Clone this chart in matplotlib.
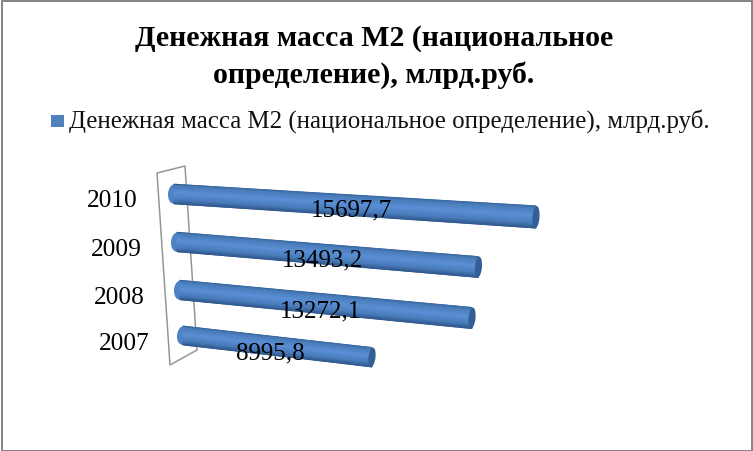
import matplotlib
matplotlib.use("Agg")
import matplotlib.pyplot as plt
import numpy as np
from matplotlib.colors import LinearSegmentedColormap
from matplotlib.patches import Polygon, Ellipse, Rectangle

# Data
title = "Денежная масса М2 (национальное\nопределение), млрд.руб."
series_name = "Денежная масса М2 (национальное определение), млрд.руб."
years = ["2007", "2008", "2009", "2010"]
values = [8995.8, 13272.1, 13493.2, 15697.7]
value_labels = ["8995,8", "13272,1", "13493,2", "15697,7"]

# Layout of the oblique 3D projection, per category (pixels)
start_x = [183, 180, 177, 174]
start_y = [335.5, 290, 242, 194]
px_per_unit = [0.02101, 0.0220, 0.02234, 0.02306]
slope = [0.115, 0.096, 0.083, 0.0635]
thick_left = [18.7, 19.3, 19.3, 19.5]
thick_right = [19.3, 21, 20.7, 22]
year_x = [124, 119, 116, 112]
year_y = [344, 298, 250, 201]
label_center = [270, 321, 322, 351]
label_y = [353, 311, 260, 210]

W, H = 753, 451
fig = plt.figure(figsize=(W / 100, H / 100), dpi=100, facecolor="white")
ax = fig.add_axes([0, 0, 1, 1])
ax.set_xlim(0, W)
ax.set_ylim(H, 0)
ax.axis("off")
serif = "Liberation Serif"

# chart border
for r in [(1, 0, 2, H), (1, 0, W - 1, 2), (W - 2, 0, 2, H), (1, H - 1, W - 1, 1)]:
    ax.add_patch(Rectangle((r[0], r[1]), r[2], r[3], fc="#868686", ec="none", zorder=1))

# back wall
ax.add_patch(Polygon([(157, 173), (185, 166), (197, 350), (170, 365)], closed=True,
                     fill=False, ec="#969696", lw=1.1, zorder=2))

cmap = LinearSegmentedColormap.from_list(
    "cyl", [(0, "#3a689f"), (0.1, "#4a7cba"), (0.45, "#5b90d6"), (0.8, "#4a7cbb"), (1, "#305a8e")])
for i in range(len(years)):
    L = values[i] * px_per_unit[i]
    x0, y0 = start_x[i], start_y[i]
    x1, y1 = x0 + L, y0 + L * slope[i]
    tl, tr = thick_left[i], thick_right[i]
    z = 3 + i * 0.01
    ang = np.degrees(np.arctan(slope[i]))
    ax.add_patch(Ellipse((x0, y0), 12, tl, angle=ang, fc="#4f82c2", ec="none", zorder=z))
    u = np.linspace(0, 1, 25)
    X = np.vstack([np.full_like(u, x0), np.full_like(u, x1)])
    Y = np.vstack([y0 + (u - 0.5) * tl, y1 + (u - 0.5) * tr])
    C = np.vstack([u, u])
    ax.pcolormesh(X, Y, C, shading="gouraud", cmap=cmap, vmin=0, vmax=1, zorder=z)
    ax.add_patch(Ellipse((x1, y1), 7, tr, angle=ang, fc="#335f96", ec="none", zorder=z + 0.001))
    ax.text(year_x[i], year_y[i], years[i], family=serif, fontsize=18.3, ha="center", va="center",
            color="black", zorder=6)
    ax.text(label_center[i], label_y[i], value_labels[i], family=serif, fontsize=18, ha="center",
            va="center", color="black", zorder=6)
ax.set_xlim(0, W)
ax.set_ylim(H, 0)

# title
ax.text(374, 57, title, family=serif, fontsize=21.5, fontweight="bold", ha="center", va="center",
        linespacing=1.45, color="black", zorder=6)

# legend
ax.add_patch(Rectangle((51, 115), 13, 12, fc="#4f81bd", ec="none", zorder=6))
ax.text(69, 121, series_name, family=serif, fontsize=17.9, ha="left", va="center", color="#111111", zorder=6)

fig.savefig("out.png", dpi=100, facecolor="white")
